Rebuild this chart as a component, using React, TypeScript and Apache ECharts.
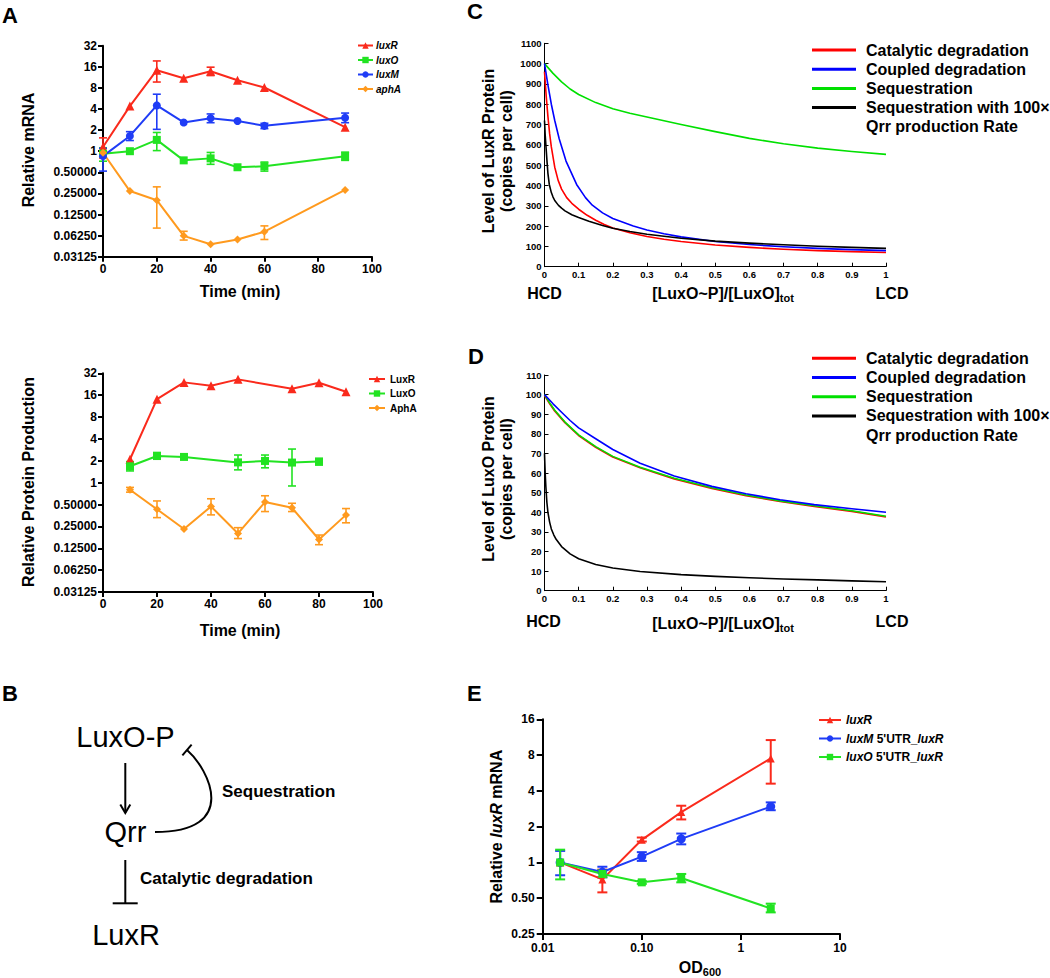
import React, { useEffect, useRef } from 'react';
import * as echarts from 'echarts';

const FONT = '"Liberation Sans", Arial, Helvetica, sans-serif';
const NARROW = '"Liberation Sans Narrow", "Arial Narrow", "Liberation Sans", Arial, sans-serif';

const RED = '#fa2a1c';
const GREEN = '#22e322';
const BLUE = '#1f3cf6';
const ORANGE = '#ff9a1e';

// ---------- Panel A (top): relative mRNA ----------
const aTopTimes = [0, 10, 20, 30, 40, 50, 60, 90];
const aTopLuxR = [1.15, 4.4, 14.3, 11.0, 13.8, 10.3, 8.1, 2.2];
const aTopLuxO = [0.92, 1.0, 1.45, 0.74, 0.79, 0.59, 0.61, 0.85];
const aTopLuxM = [0.85, 1.65, 4.5, 2.57, 2.95, 2.7, 2.3, 3.0];
const aTopAphA = [0.95, 0.27, 0.2, 0.062, 0.047, 0.055, 0.071, 0.28];
// error bars: [time, low, high]
const aTopLuxRErr = [[0, 0.8, 1.55], [20, 9.7, 19.4], [40, 12.0, 15.8]];
const aTopLuxOErr = [[0, 0.72, 1.12], [20, 1.02, 1.85], [40, 0.65, 0.96], [60, 0.52, 0.7], [90, 0.74, 0.97]];
const aTopLuxMErr = [[0, 0.52, 1.1], [10, 1.42, 1.9], [20, 2.05, 6.5], [40, 2.55, 3.4], [60, 2.1, 2.5], [90, 2.55, 3.5]];
const aTopAphAErr = [[20, 0.08, 0.31], [30, 0.054, 0.072], [60, 0.055, 0.086]];

// ---------- Panel A (bottom): relative protein production ----------
const aBotLuxRTimes = [10, 20, 30, 40, 50, 70, 80, 90];
const aBotLuxR = [2.1, 14.1, 24, 21.6, 26.4, 19.6, 23.7, 17.8];
const aBotLuxOTimes = [10, 20, 30, 50, 60, 70, 80];
const aBotLuxO = [1.68, 2.33, 2.26, 1.9, 1.99, 1.89, 1.95];
const aBotAphATimes = [10, 20, 30, 40, 50, 60, 70, 80, 90];
const aBotAphA = [0.8, 0.43, 0.23, 0.47, 0.2, 0.54, 0.45, 0.165, 0.36];
const aBotLuxOErr = [[10, 1.45, 1.95], [20, 2.1, 2.6], [30, 2.1, 2.45], [50, 1.5, 2.4], [60, 1.6, 2.4], [70, 0.9, 2.9], [80, 1.75, 2.15]];
const aBotAphAErr = [[10, 0.74, 0.86], [20, 0.33, 0.56], [40, 0.36, 0.6], [50, 0.17, 0.24], [60, 0.4, 0.66], [70, 0.4, 0.52], [80, 0.14, 0.19], [90, 0.28, 0.44]];
const aTimeTicks = [0, 20, 40, 60, 80, 100];

// ---------- Panel C: LuxR protein level ----------
const cCatalytic = [[0, 960], [0.005, 840], [0.01, 740], [0.015, 655], [0.02, 590], [0.03, 490], [0.04, 425], [0.05, 382], [0.065, 340], [0.08, 312], [0.1, 283], [0.125, 253], [0.15, 229], [0.175, 208], [0.2, 191], [0.25, 167], [0.3, 149], [0.35, 135], [0.4, 124], [0.5, 107], [0.6, 95], [0.7, 86], [0.8, 79], [0.9, 74], [1, 70]];
const cCoupled = [[0, 1000], [0.01, 895], [0.02, 800], [0.03, 720], [0.043, 630], [0.063, 520], [0.094, 405], [0.12, 340], [0.14, 303], [0.17, 265], [0.2, 237], [0.26, 200], [0.3, 181], [0.35, 162], [0.4, 147], [0.5, 124], [0.6, 109], [0.7, 98], [0.8, 90], [0.9, 84], [1, 79]];
const cSequestration = [[0, 1000], [0.025, 952], [0.05, 910], [0.075, 875], [0.1, 848], [0.15, 808], [0.2, 778], [0.25, 756], [0.3, 737], [0.4, 700], [0.5, 665], [0.6, 632], [0.7, 605], [0.8, 584], [0.9, 567], [1, 553]];
const cSeq100 = [[0, 720], [0.002, 650], [0.005, 575], [0.0075, 515], [0.01, 460], [0.014, 405], [0.02, 365], [0.025, 343], [0.03, 326], [0.041, 302], [0.05, 288], [0.06, 275], [0.08, 256], [0.1, 242], [0.13, 224], [0.17, 203], [0.2, 189], [0.25, 173], [0.3, 160], [0.4, 140], [0.5, 126], [0.6, 116], [0.7, 108], [0.8, 101], [0.9, 95], [1, 90]];

// ---------- Panel D: LuxO protein level ----------
const dCoupled = [[0, 100], [0.025, 95.3], [0.05, 91], [0.075, 86.8], [0.1, 83], [0.15, 77.5], [0.2, 72], [0.28, 65], [0.38, 58.5], [0.49, 53.2], [0.59, 49.4], [0.69, 46.4], [0.79, 43.9], [0.9, 41.8], [1, 40]];
const dSequestration = [[0, 100], [0.015, 95.8], [0.03, 92], [0.06, 86], [0.1, 79.5], [0.15, 73.5], [0.2, 68.5], [0.28, 63], [0.38, 57.3], [0.49, 52.5], [0.59, 48.8], [0.69, 45.8], [0.79, 43.3], [0.9, 40.8], [1, 38]];
const dCatalytic = [[0, 99.7], [0.015, 95.5], [0.03, 91.7], [0.06, 85.7], [0.1, 79.2], [0.15, 73.2], [0.2, 68.2], [0.28, 62.7], [0.38, 57.0], [0.49, 52.2], [0.59, 48.5], [0.69, 45.5], [0.79, 43.0], [0.9, 40.5], [1, 37.7]];
const dSeq100 = [[0, 70], [0.002, 60], [0.004, 53], [0.007, 45], [0.01, 40], [0.015, 35], [0.02, 31.5], [0.027, 28.5], [0.034, 26.2], [0.05, 22.5], [0.075, 18.8], [0.1, 16.3], [0.15, 13.4], [0.2, 11.6], [0.28, 9.8], [0.4, 8.2], [0.5, 7.3], [0.6, 6.6], [0.7, 6], [0.8, 5.5], [0.9, 5], [1, 4.6]];

// ---------- Panel E: relative luxR mRNA vs OD600 ----------
const eOD = [0.015, 0.04, 0.1, 0.25, 2];
const eLuxR = [1.0, 0.72, 1.55, 2.65, 7.5];
const eLuxM = [1.0, 0.83, 1.12, 1.58, 2.95];
const eLuxO = [1.0, 0.8, 0.68, 0.74, 0.41];
const eLuxRErr = [[0.04, 0.56, 0.87], [0.1, 1.5, 1.62], [0.25, 2.3, 3.0], [2, 4.6, 10.7]];
const eLuxMErr = [[0.015, 0.78, 1.25], [0.04, 0.75, 0.92], [0.1, 1.03, 1.22], [0.25, 1.42, 1.75], [2, 2.75, 3.2]];
const eLuxOErr = [[0.015, 0.72, 1.28], [0.04, 0.75, 0.86], [0.1, 0.66, 0.7], [0.25, 0.68, 0.8], [2, 0.38, 0.45]];

const legendCD = ['Catalytic degradation', 'Coupled degradation', 'Sequestration', 'Sequestration with 100×', 'Qrr production Rate'];

const log2 = (v: number) => Math.log2(v);

function errRender(color: string, cap: number, width: number) {
  return (params: any, api: any) => {
    const x = api.value(0);
    const lo = api.value(1);
    const hi = api.value(2);
    const a = api.coord([x, lo]);
    const b = api.coord([x, hi]);
    const st = { stroke: color, lineWidth: width };
    return {
      type: 'group',
      children: [
        { type: 'line', shape: { x1: a[0], y1: a[1], x2: b[0], y2: b[1] }, style: st },
        { type: 'line', shape: { x1: a[0] - cap, y1: a[1], x2: a[0] + cap, y2: a[1] }, style: st },
        { type: 'line', shape: { x1: b[0] - cap, y1: b[1], x2: b[0] + cap, y2: b[1] }, style: st },
      ],
    };
  };
}

function errSeries(name: string, idx: number, data: number[][], color: string, cap = 4, width = 1.6) {
  return {
    name, type: 'custom', xAxisIndex: idx, yAxisIndex: idx, data, silent: true, z: 2,
    encode: { x: 0, y: [1, 2] }, renderItem: errRender(color, cap, width),
  };
}

function markSeries(name: string, idx: number, data: number[][], color: string, symbol: string, size: number) {
  return {
    name, type: 'line', xAxisIndex: idx, yAxisIndex: idx, data, symbol, symbolSize: size,
    showSymbol: true, lineStyle: { color, width: 2 }, itemStyle: { color }, z: 3, clip: false,
  };
}

function curveSeries(name: string, idx: number, data: number[][], color: string, width = 1.6, z = 3) {
  return {
    name, type: 'line', xAxisIndex: idx, yAxisIndex: idx, data, symbol: 'none', showSymbol: false,
    smooth: false, lineStyle: { color, width, join: 'round' }, itemStyle: { color }, z,
  };
}

const pairs = (xs: number[], ys: number[], f = (v: number) => v) => xs.map((x, i) => [x, f(ys[i])]);
const errLog = (e: number[][]) => e.map(([x, lo, hi]) => [x, log2(lo), log2(hi)]);

function pow2Label(v: number) {
  const p = Math.round(v);
  const val = Math.pow(2, p);
  return p >= 0 ? String(val) : val.toFixed(5);
}

const axisTextA = { color: '#000', fontWeight: 'bold', fontSize: 12, fontFamily: FONT };
const axisTextCD = { color: '#000', fontWeight: 'bold', fontSize: 9.5, fontFamily: NARROW };

function xAxisA(gridIndex: number) {
  return {
    gridIndex, type: 'value', min: aTimeTicks[0], max: aTimeTicks[aTimeTicks.length - 1], interval: 20,
    axisLine: { onZero: false, lineStyle: { color: '#000', width: 2 } },
    axisTick: { length: 5, lineStyle: { color: '#000', width: 2 } },
    axisLabel: { ...axisTextA, margin: 6 }, splitLine: { show: false },
  };
}
function yAxisA(gridIndex: number) {
  return {
    gridIndex, type: 'value', min: -5, max: 5, interval: 1,
    axisLine: { show: true, onZero: false, lineStyle: { color: '#000', width: 2 } },
    axisTick: { show: true, length: 5, lineStyle: { color: '#000', width: 2 } },
    axisLabel: { ...axisTextA, margin: 6, formatter: pow2Label }, splitLine: { show: false },
  };
}
function xAxisCD(gridIndex: number) {
  return {
    gridIndex, type: 'value', min: 0, max: 1, interval: 0.1,
    axisLine: { onZero: false, lineStyle: { color: '#000', width: 1 } },
    axisTick: { inside: true, length: 4, lineStyle: { color: '#000', width: 1 } },
    axisLabel: { ...axisTextCD, margin: 3, formatter: (v: number) => { const r = Math.round(v * 10) / 10; return r === 0 || r === 1 ? String(r) : r.toFixed(1); } },
    splitLine: { show: false },
  };
}
function yAxisCD(gridIndex: number, max: number, interval: number) {
  return {
    gridIndex, type: 'value', min: 0, max, interval,
    axisLine: { show: true, onZero: false, lineStyle: { color: '#000', width: 1 } },
    axisTick: { show: true, inside: true, length: 4, lineStyle: { color: '#000', width: 1 } },
    axisLabel: { ...axisTextCD, margin: 3, formatter: (v: number) => String(Math.round(v)) }, splitLine: { show: false },
  };
}

function txt(x: number, y: number, text: string, size: number, opts: any = {}) {
  return {
    type: 'text', x, y, rotation: opts.rotation || 0, silent: true,
    style: {
      text, fill: '#000', fontSize: size, fontWeight: opts.weight || 'bold', fontFamily: FONT,
      fontStyle: opts.italic ? 'italic' : 'normal',
      align: opts.align || 'center', verticalAlign: 'middle',
      textAlign: opts.align || 'center', textVerticalAlign: 'middle',
      lineHeight: opts.lineHeight, rich: opts.rich,
    },
  };
}
function seg(x1: number, y1: number, x2: number, y2: number, color = '#000', w = 2) {
  return { type: 'line', silent: true, shape: { x1, y1, x2, y2 }, style: { stroke: color, lineWidth: w } };
}

function cdLegend(top: number) {
  const colors = ['#ff0000', '#0000ff', '#00e000', '#000000'];
  const out: any[] = [];
  const step = 19.2;
  for (let i = 0; i < 4; i++) {
    const y = top + i * step;
    out.push(seg(812, y, 856, y, colors[i], 3));
    out.push(txt(866, y, legendCD[i], 16, { align: 'left' }));
  }
  out.push(txt(866, top + 4 * step, legendCD[4], 16, { align: 'left' }));
  return out;
}

export default function App() {
  const ref = useRef<HTMLDivElement>(null);
  useEffect(() => {
    if (!ref.current) return;
    const chart = echarts.init(ref.current, null, { renderer: 'svg' });
    const subRich = {
      b: { fontSize: 16, fontWeight: 'bold', fontFamily: FONT, fill: '#000', color: '#000' },
      s: { fontSize: 11, fontWeight: 'bold', fontFamily: FONT, fill: '#000', color: '#000', padding: [10, 0, 0, 0] },
    };
    const eRich = {
      n: { fontSize: 16, fontWeight: 'bold', fontFamily: FONT, color: '#000' },
      i: { fontSize: 16, fontWeight: 'bold', fontStyle: 'italic', fontFamily: FONT, color: '#000' },
    };
    const legendRich = {
      n: { fontSize: 12, fontWeight: 'bold', fontFamily: FONT, color: '#000' },
      i: { fontSize: 12, fontWeight: 'bold', fontStyle: 'italic', fontFamily: FONT, color: '#000' },
    };
    const eNames: Record<string, string> = {
      E_luxR: '{i|luxR}',
      E_luxM: "{i|luxM}{n| 5'UTR_}{i|luxR}",
      E_luxO: "{i|luxO}{n| 5'UTR_}{i|luxR}",
    };

    const option: any = {
      animation: false,
      backgroundColor: '#fff',
      grid: [
        { left: 103, top: 45.7, width: 269, height: 211, outerBoundsMode: 'none' },
        { left: 103, top: 373.3, width: 270, height: 218.7, outerBoundsMode: 'none' },
        { left: 544.5, top: 43.3, width: 341.5, height: 223.4, outerBoundsMode: 'none' },
        { left: 544.5, top: 375, width: 341.5, height: 215.7, outerBoundsMode: 'none' },
        { left: 542.7, top: 719.3, width: 297.3, height: 214.7, outerBoundsMode: 'none' },
      ],
      xAxis: [
        xAxisA(0), xAxisA(1), xAxisCD(2), xAxisCD(3),
        {
          gridIndex: 4, type: 'log', logBase: 10, min: 0.01, max: 10,
          axisLine: { onZero: false, lineStyle: { color: '#000', width: 2 } },
          axisTick: { length: 6, lineStyle: { color: '#000', width: 2 } },
          axisLabel: { ...axisTextA, margin: 8, formatter: (v: number) => (v < 0.999 ? v.toFixed(2) : String(Math.round(v))) },
          splitLine: { show: false }, minorTick: { show: false },
        },
      ],
      yAxis: [
        yAxisA(0), yAxisA(1), yAxisCD(2, 1100, 100), yAxisCD(3, 110, 10),
        {
          gridIndex: 4, type: 'log', logBase: 2, min: 0.25, max: 16,
          axisLine: { show: true, onZero: false, lineStyle: { color: '#000', width: 2 } },
          axisTick: { show: true, length: 6, lineStyle: { color: '#000', width: 2 } },
          axisLabel: { ...axisTextA, margin: 8, formatter: (v: number) => (v < 0.999 ? v.toFixed(2) : String(Math.round(v))) },
          splitLine: { show: false },
        },
      ],
      legend: [
        {
          data: ['luxR', 'luxO', 'luxM', 'aphA'], orient: 'vertical', left: 357, top: 40.5,
          itemWidth: 15, itemHeight: 8, itemGap: 4.5, padding: 0, selectedMode: false,
          textStyle: { color: '#000', fontSize: 10, fontWeight: 'bold', fontStyle: 'italic', fontFamily: FONT, padding: [0, 0, 0, -2] },
        },
        {
          data: ['LuxR', 'LuxO', 'AphA'], orient: 'vertical', left: 368, top: 374,
          itemWidth: 16, itemHeight: 8, itemGap: 4.5, padding: 0, selectedMode: false,
          textStyle: { color: '#000', fontSize: 10, fontWeight: 'bold', fontFamily: FONT },
        },
        {
          data: ['E_luxR', 'E_luxM', 'E_luxO'], orient: 'vertical', left: 818, top: 714,
          itemWidth: 22, itemHeight: 8, itemGap: 6.5, padding: 0, selectedMode: false,
          formatter: (n: string) => eNames[n],
          textStyle: { color: '#000', fontSize: 12, fontWeight: 'bold', fontFamily: FONT, rich: legendRich },
        },
      ],
      series: [
        // A top
        errSeries('luxR_err', 0, errLog(aTopLuxRErr), RED),
        errSeries('luxO_err', 0, errLog(aTopLuxOErr), GREEN),
        errSeries('luxM_err', 0, errLog(aTopLuxMErr), BLUE),
        errSeries('aphA_err', 0, errLog(aTopAphAErr), ORANGE),
        markSeries('luxR', 0, pairs(aTopTimes, aTopLuxR, log2), RED, 'triangle', 9),
        markSeries('luxO', 0, pairs(aTopTimes, aTopLuxO, log2), GREEN, 'rect', 8),
        markSeries('luxM', 0, pairs(aTopTimes, aTopLuxM, log2), BLUE, 'circle', 8),
        markSeries('aphA', 0, pairs(aTopTimes, aTopAphA, log2), ORANGE, 'diamond', 8),
        // A bottom
        errSeries('LuxO_err', 1, errLog(aBotLuxOErr), GREEN),
        errSeries('AphA_err', 1, errLog(aBotAphAErr), ORANGE),
        markSeries('LuxR', 1, pairs(aBotLuxRTimes, aBotLuxR, log2), RED, 'triangle', 9),
        markSeries('LuxO', 1, pairs(aBotLuxOTimes, aBotLuxO, log2), GREEN, 'rect', 8),
        markSeries('AphA', 1, pairs(aBotAphATimes, aBotAphA, log2), ORANGE, 'diamond', 8),
        // C
        curveSeries('C_seq', 2, cSequestration, '#00e000'),
        curveSeries('C_cat', 2, cCatalytic, '#ff0000'),
        curveSeries('C_coupled', 2, cCoupled, '#0000ff'),
        curveSeries('C_seq100', 2, cSeq100, '#000000'),
        // D
        curveSeries('D_cat', 3, dCatalytic, '#ff0000', 1.8, 2),
        curveSeries('D_seq', 3, dSequestration, '#00e000', 1.6, 3),
        curveSeries('D_coupled', 3, dCoupled, '#0000ff'),
        curveSeries('D_seq100', 3, dSeq100, '#000000'),
        // E
        errSeries('E_luxR_err', 4, eLuxRErr, RED, 5, 2),
        errSeries('E_luxM_err', 4, eLuxMErr, BLUE, 5, 2),
        errSeries('E_luxO_err', 4, eLuxOErr, GREEN, 5, 2),
        markSeries('E_luxR', 4, pairs(eOD, eLuxR), RED, 'triangle', 8),
        markSeries('E_luxM', 4, pairs(eOD, eLuxM), BLUE, 'circle', 9),
        markSeries('E_luxO', 4, pairs(eOD, eLuxO), GREEN, 'rect', 8),
      ],
      graphic: [
        // panel letters
        txt(2, 15, 'A', 22, { align: 'left' }),
        txt(2, 693, 'B', 22, { align: 'left' }),
        txt(467, 11, 'C', 22, { align: 'left' }),
        txt(468, 356, 'D', 22, { align: 'left' }),
        txt(467, 693, 'E', 22, { align: 'left' }),
        // A titles
        txt(28, 150, 'Relative mRNA', 16, { rotation: Math.PI / 2 }),
        txt(240, 291.7, 'Time (min)', 16),
        txt(28, 482, 'Relative Protein Production', 16, { rotation: Math.PI / 2 }),
        txt(240, 630, 'Time (min)', 16),
        // C titles
        txt(497, 151, 'Level of LuxR Protein\n(copies per cell)', 16, { rotation: Math.PI / 2, lineHeight: 18 }),
        txt(544.5, 293, 'HCD', 16),
        txt(723, 293, '{b|[LuxO~P]/[LuxO]}{s|tot}', 16, { rich: subRich }),
        txt(892, 293, 'LCD', 16),
        ...cdLegend(50),
        // D titles
        txt(497, 479, 'Level of LuxO Protein\n(copies per cell)', 16, { rotation: Math.PI / 2, lineHeight: 18 }),
        txt(543.5, 621, 'HCD', 16),
        txt(723, 623, '{b|[LuxO~P]/[LuxO]}{s|tot}', 16, { rich: subRich }),
        txt(892, 621, 'LCD', 16),
        ...cdLegend(358.3),
        // E titles
        txt(496.5, 826.7, '{n|Relative }{i|luxR}{n| mRNA}', 16, { rotation: Math.PI / 2, rich: eRich }),
        txt(700, 967, '{b|OD}{s|600}', 16, { rich: subRich }),
        // Panel B diagram
        txt(125.5, 736.7, 'LuxO-P', 29, { weight: 'normal' }),
        txt(125.5, 831.7, 'Qrr', 29, { weight: 'normal' }),
        txt(126, 935, 'LuxR', 29, { weight: 'normal' }),
        seg(125.3, 763, 125.3, 812.5),
        { type: 'polyline', silent: true, shape: { points: [[120.3, 804.5], [125.3, 813], [130.3, 804.5]] }, style: { stroke: '#000', lineWidth: 2, fill: null } },
        seg(125.3, 860, 125.3, 903.3),
        seg(112.7, 903.3, 137.7, 903.3),
        { type: 'bezierCurve', silent: true, shape: { x1: 155, y1: 832, cpx1: 240, cpy1: 832, cpx2: 209.5, cpy2: 769.7, x2: 187, y2: 750 }, style: { stroke: '#000', lineWidth: 2, fill: null } },
        seg(182.4, 755.3, 191.6, 744.7),
        txt(222, 791, 'Sequestration', 17, { align: 'left' }),
        txt(140, 878.3, 'Catalytic degradation', 17, { align: 'left' }),
      ],
    };
    chart.setOption(option);
    return () => chart.dispose();
  }, []);
  return <div ref={ref} style={{ position: 'absolute', left: 0, top: 0, width: 1050, height: 978, background: '#fff' }} />;
}
